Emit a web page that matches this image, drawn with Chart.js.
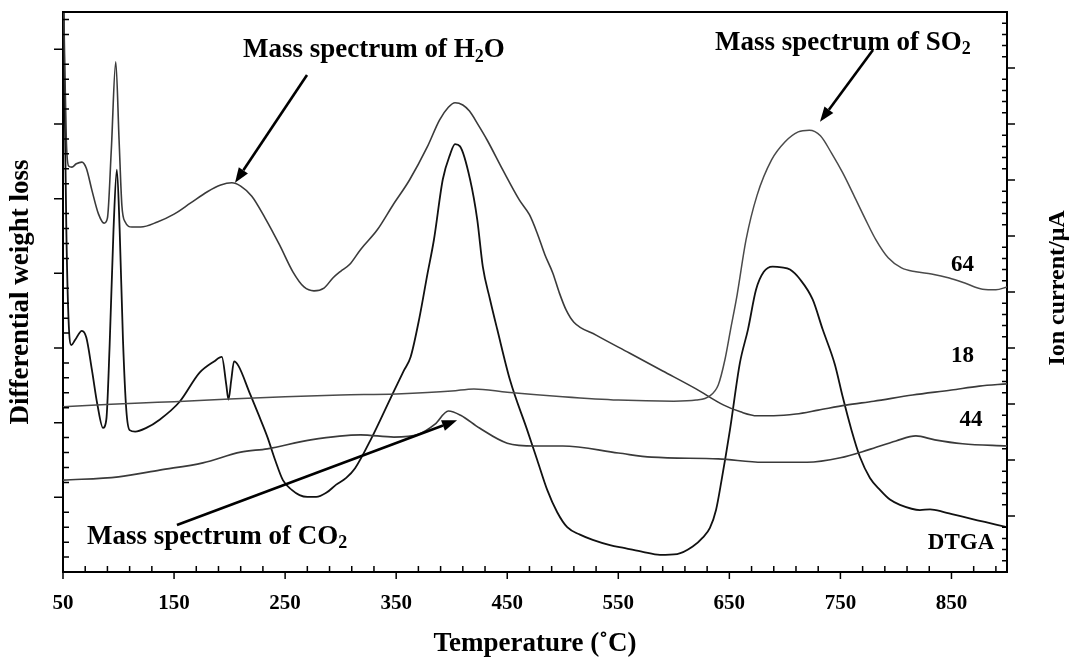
<!DOCTYPE html>
<html>
<head>
<meta charset="utf-8">
<script src="https://cdn.jsdelivr.net/npm/chart.js@4.4.0/dist/chart.umd.min.js"></script>
<style>
  html, body { margin: 0; padding: 0; background: #fff; }
  #wrap { width: 1073px; height: 658px; }
</style>
</head>
<body>
<div id="wrap"><canvas id="tgaChart"></canvas></div>
<script>
// values (temperature in °C, signals in axis units)
const tempH2O = [50, 51.5, 53, 55, 58, 62, 67, 71, 76, 82, 87, 90, 93.5, 97.5, 100.5, 103, 106, 112, 120, 135,
  150, 165, 180, 192, 202, 210, 220, 232, 245, 257, 267, 276, 285, 293, 300, 308, 318, 333, 347, 362,
  378, 389, 397, 403, 410, 416, 424, 432, 446, 461, 470, 477, 484, 491, 497, 503, 510, 530, 560, 590,
  620, 645, 660, 675, 690, 710, 730, 755, 780, 815, 850, 875, 900];
const ionH2O = [10.9, 9.14, 7.71, 7.25, 7.23, 7.29, 7.32, 7.21, 6.82, 6.39, 6.23, 6.32, 7.54, 9.11, 7.71, 6.55, 6.25, 6.16, 6.16, 6.25,
  6.39, 6.59, 6.79, 6.91, 6.95, 6.89, 6.71, 6.32, 5.84, 5.36, 5.09, 5.02, 5.07, 5.25, 5.37, 5.49, 5.76, 6.11, 6.55, 7.00,
  7.59, 8.07, 8.30, 8.38, 8.34, 8.23, 7.98, 7.71, 7.18, 6.64, 6.38, 6.05, 5.66, 5.34, 4.98, 4.68, 4.46, 4.23, 3.91, 3.59,
  3.27, 2.98, 2.86, 2.79, 2.79, 2.82, 2.89, 2.98, 3.05, 3.16, 3.25, 3.32, 3.36];

const tempSO2 = [50, 80, 120, 150, 200, 250, 300, 350, 400, 420, 450, 500, 550, 600, 620, 632, 640, 646, 651, 657,
  665, 675, 688, 700, 712, 722, 732, 742, 752, 762, 772, 782, 793, 805, 818, 832, 848, 862, 878, 890, 900];
const ionSO2 = [2.95, 2.98, 3.02, 3.04, 3.09, 3.13, 3.16, 3.18, 3.23, 3.27, 3.21, 3.13, 3.07, 3.05, 3.07, 3.14, 3.34, 3.79, 4.32, 4.95,
  5.93, 6.73, 7.36, 7.68, 7.86, 7.89, 7.79, 7.48, 7.13, 6.73, 6.32, 5.93, 5.61, 5.43, 5.36, 5.32, 5.25, 5.16, 5.05, 5.04, 5.09];

const tempCO2 = [50, 100, 137, 176, 210, 234, 273, 318, 348, 370, 385, 397, 408, 425, 450, 475, 500, 550, 580, 640,
  680, 720, 750, 775, 800, 818, 835, 860, 900];
const ionCO2 = [1.64, 1.70, 1.82, 1.95, 2.14, 2.20, 2.36, 2.45, 2.41, 2.46, 2.64, 2.875, 2.80, 2.57, 2.30, 2.25, 2.25, 2.125, 2.05, 2.02,
  1.96, 1.96, 2.04, 2.18, 2.34, 2.43, 2.36, 2.29, 2.25];

const tempDTGA = [50, 51.5, 53, 55, 57.5, 61, 67, 71, 76, 81, 86, 89, 92, 95.5, 98.5, 101, 104, 107, 110, 115,
  125, 137, 155, 173, 186, 193, 197, 199, 201.5, 204, 208, 218, 226, 234, 241, 248, 256, 263, 270, 278,
  287, 296, 305, 313, 327, 345, 357, 363, 371, 378, 384, 392, 398.5, 403, 407.5, 416.5, 423, 428, 434.5, 441,
  452.5, 468, 477, 486, 495, 504, 515.5, 527, 542.5, 556, 572, 587.5, 603, 617, 626, 632.5, 638, 643, 650.5, 659.5,
  666.8, 674, 681, 689, 697, 704.6, 713.6, 725, 734, 745, 752, 760, 767.6, 776.6, 785.6, 794.6, 803.6, 821.6, 830.7, 844,
  860, 880, 900];
const lossDTGA = [8.2, 6.33, 4.59, 3.38, 3.04, 3.11, 3.23, 3.14, 2.71, 2.24, 1.93, 2.04, 3.04, 4.59, 5.39, 4.59, 3.11, 2.17, 1.90, 1.88,
  1.93, 2.04, 2.28, 2.67, 2.82, 2.88, 2.51, 2.31, 2.57, 2.82, 2.76, 2.40, 2.11, 1.81, 1.50, 1.23, 1.10, 1.03, 1.006, 1.006,
  1.06, 1.17, 1.26, 1.39, 1.77, 2.33, 2.70, 2.88, 3.41, 3.98, 4.45, 5.26, 5.59, 5.73, 5.70, 5.26, 4.72, 4.09, 3.65, 3.25,
  2.57, 1.90, 1.50, 1.10, 0.80, 0.60, 0.50, 0.43, 0.36, 0.32, 0.27, 0.23, 0.24, 0.34, 0.46, 0.59, 0.83, 1.23, 1.90, 2.80,
  3.25, 3.78, 4.02, 4.09, 4.08, 4.05, 3.92, 3.65, 3.25, 2.78, 2.35, 1.90, 1.54, 1.26, 1.10, 0.97, 0.90, 0.83, 0.84, 0.80,
  0.74, 0.67, 0.60];

const xTickLabels = [50, 150, 250, 350, 450, 550, 650, 750, 850];

const SERIF = "'Liberation Serif', 'Times New Roman', serif";

// annotation texts, placed in data units (x = temperature, y = ion current axis)
const notes = [
  { main: "Mass spectrum of H", sub: "2", tail: "O", x: 212, y: 9.32 },
  { main: "Mass spectrum of SO", sub: "2", tail: "", x: 637, y: 9.45 },
  { main: "Mass spectrum of CO", sub: "2", tail: "", x: 71.6, y: 0.63 },
];
const arrows = [
  { from: [269.7, 8.875], to: [204.9, 6.95] },
  { from: [779.3, 9.32], to: [731.6, 8.04] },
  { from: [152.6, 0.84], to: [404.8, 2.71] },
];
const curveTags = [
  { text: "64", x: 860, y: 5.48 },
  { text: "18", x: 860, y: 3.86 },
  { text: "44", x: 867.6, y: 2.71 },
  { text: "DTGA", x: 858.6, y: 0.52 },
];

const toPoints = (xs, ys) => xs.map((x, i) => ({ x, y: ys[i] }));

function drawArrow(ctx, x1, y1, x2, y2) {
  const ang = Math.atan2(y2 - y1, x2 - x1);
  const head = 15, half = 5.5;
  const bx = x2 - head * Math.cos(ang), by = y2 - head * Math.sin(ang);
  ctx.beginPath();
  ctx.moveTo(x1, y1);
  ctx.lineTo(bx, by);
  ctx.stroke();
  ctx.beginPath();
  ctx.moveTo(x2, y2);
  ctx.lineTo(bx + half * Math.sin(ang), by - half * Math.cos(ang));
  ctx.lineTo(bx - half * Math.sin(ang), by + half * Math.cos(ang));
  ctx.closePath();
  ctx.fill();
}

const overlayPlugin = {
  id: "overlay",
  afterDraw(chart) {
    const { ctx, chartArea } = chart;
    const x = chart.scales.x, yL = chart.scales.yL, yR = chart.scales.yR;
    ctx.save();
    ctx.strokeStyle = "#000";
    ctx.fillStyle = "#000";

    // top frame
    ctx.lineWidth = 2;
    ctx.beginPath();
    ctx.moveTo(chartArea.left - 1, chartArea.top);
    ctx.lineTo(chartArea.right + 1, chartArea.top);
    ctx.stroke();

    // tick marks: majors outside, minors inside
    ctx.lineWidth = 1.5;
    ctx.beginPath();
    for (let v = 50; v <= 900; v += 20) {
      const px = x.getPixelForValue(v);
      if (xTickLabels.includes(v)) {
        ctx.moveTo(px, chartArea.bottom); ctx.lineTo(px, chartArea.bottom + 7);
      } else {
        ctx.moveTo(px, chartArea.bottom); ctx.lineTo(px, chartArea.bottom - 6);
      }
    }
    for (let i = 1; i <= 37; i++) {
      const py = yL.getPixelForValue(i * 0.2);
      if (i % 5 === 0) {
        ctx.moveTo(chartArea.left, py); ctx.lineTo(chartArea.left - 9, py);
      } else {
        ctx.moveTo(chartArea.left, py); ctx.lineTo(chartArea.left + 6, py);
      }
    }
    for (let i = 1; i < 50; i++) {
      const py = yR.getPixelForValue(i * 0.2);
      if (i % 5 === 0) {
        ctx.moveTo(chartArea.right, py); ctx.lineTo(chartArea.right + 8, py);
      } else {
        ctx.moveTo(chartArea.right, py); ctx.lineTo(chartArea.right - 5, py);
      }
    }
    ctx.stroke();

    // arrows
    ctx.lineWidth = 2.6;
    arrows.forEach(a => {
      drawArrow(ctx,
        x.getPixelForValue(a.from[0]), yR.getPixelForValue(a.from[1]),
        x.getPixelForValue(a.to[0]), yR.getPixelForValue(a.to[1]));
    });

    // annotation labels with subscript
    ctx.textBaseline = "middle";
    ctx.textAlign = "left";
    notes.forEach(n => {
      let px = x.getPixelForValue(n.x);
      const py = yR.getPixelForValue(n.y);
      ctx.font = "bold 27px " + SERIF;
      ctx.fillText(n.main, px, py);
      px += ctx.measureText(n.main).width;
      ctx.font = "bold 18px " + SERIF;
      ctx.fillText(n.sub, px, py + 7);
      px += ctx.measureText(n.sub).width;
      ctx.font = "bold 27px " + SERIF;
      if (n.tail) ctx.fillText(n.tail, px, py);
    });

    // curve tags
    ctx.textAlign = "center";
    ctx.font = "bold 23px " + SERIF;
    curveTags.forEach(t => {
      ctx.fillText(t.text, x.getPixelForValue(t.x), yR.getPixelForValue(t.y));
    });

    // right axis title, reading upward
    ctx.save();
    ctx.translate(yR.right - 15, (chartArea.top + chartArea.bottom) / 2 - 4);
    ctx.rotate(-Math.PI / 2);
    ctx.font = "bold 24px " + SERIF;
    ctx.fillText("Ion current/\u03bcA", 0, 0);
    ctx.restore();

    ctx.restore();
  }
};

const ctx = document.getElementById("tgaChart").getContext("2d");
const lineStyle = { pointRadius: 0, fill: false, cubicInterpolationMode: "monotone" };

const tgaChart = new Chart(ctx, {
  type: "line",
  data: {
    datasets: [
      { ...lineStyle, label: "64", data: toPoints(tempSO2, ionSO2), yAxisID: "yR", borderColor: "#4a4a4a", borderWidth: 1.5 },
      { ...lineStyle, label: "18", data: toPoints(tempH2O, ionH2O), yAxisID: "yR", borderColor: "#3a3a3a", borderWidth: 1.6 },
      { ...lineStyle, label: "44", data: toPoints(tempCO2, ionCO2), yAxisID: "yR", borderColor: "#3a3a3a", borderWidth: 1.7 },
      { ...lineStyle, label: "DTGA", data: toPoints(tempDTGA, lossDTGA), yAxisID: "yL", borderColor: "#111", borderWidth: 1.8 },
    ],
  },
  options: {
    responsive: true,
    maintainAspectRatio: false,
    animation: false,
    layout: { padding: { top: 12, left: 0, right: 0, bottom: 0 } },
    plugins: { legend: { display: false }, tooltip: { enabled: false } },
    scales: {
      x: {
        type: "linear",
        min: 50,
        max: 900,
        afterBuildTicks: (s) => { s.ticks = xTickLabels.map(v => ({ value: v })); },
        afterFit: (s) => { s.height = 86; },
        grid: { display: false, drawTicks: false },
        border: { display: true, color: "#000", width: 2 },
        ticks: { color: "#000", font: { family: SERIF, size: 21, weight: "bold" }, padding: 19, maxRotation: 0, autoSkip: false },
        title: { display: true, text: "Temperature (\u02daC)", color: "#000", font: { family: SERIF, size: 27, weight: "bold", lineHeight: 1 }, padding: { top: 0, bottom: 0 } },
      },
      yL: {
        type: "linear",
        position: "left",
        min: 0,
        max: 7.5,
        afterFit: (s) => { s.width = 63; },
        grid: { display: false, drawTicks: false },
        border: { display: true, color: "#000", width: 2 },
        ticks: { display: false },
        title: { display: true, text: "Differential weight loss", color: "#000", font: { family: SERIF, size: 27, weight: "bold", lineHeight: 1 }, padding: { top: 8, bottom: 0 } },
      },
      yR: {
        type: "linear",
        position: "right",
        min: 0,
        max: 10,
        afterFit: (s) => { s.width = 66; },
        grid: { display: false, drawTicks: false },
        border: { display: true, color: "#000", width: 2 },
        ticks: { display: false },
      },
    },
  },
  plugins: [overlayPlugin],
});
</script>
</body>
</html>
